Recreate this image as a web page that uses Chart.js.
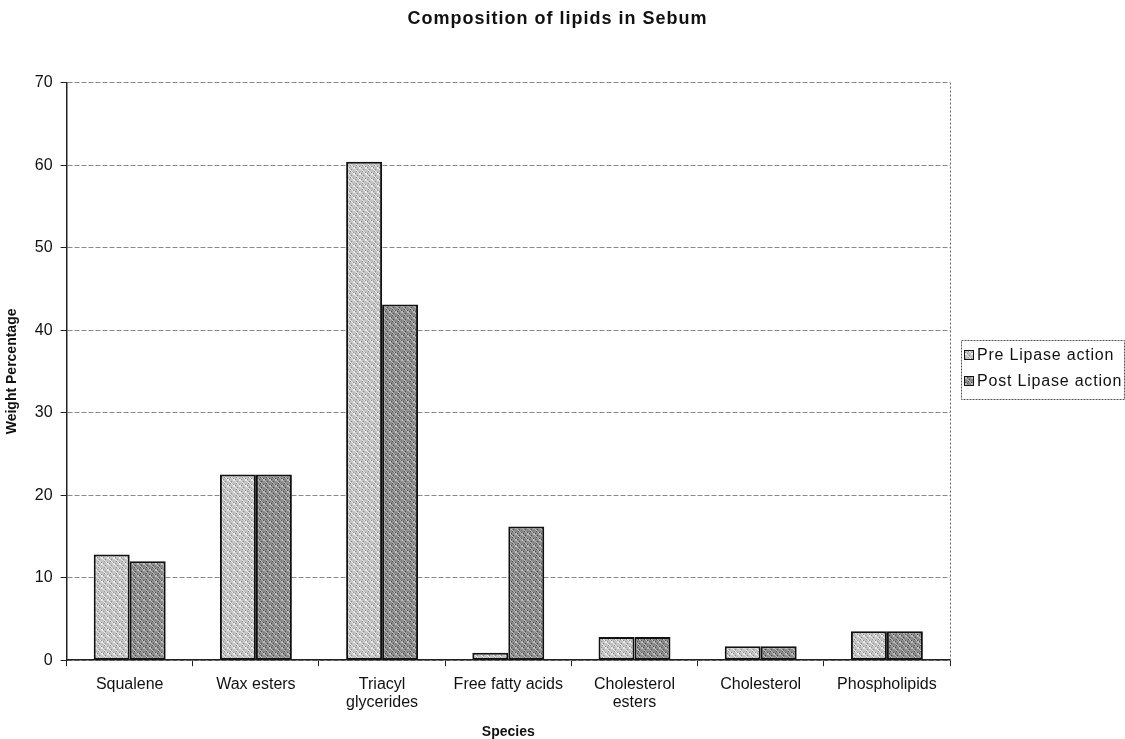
<!DOCTYPE html>
<html>
<head>
<meta charset="utf-8">
<title>Composition of lipids in Sebum</title>
<script src="https://cdn.jsdelivr.net/npm/chart.js@4/dist/chart.umd.min.js"></script>
<style>
  html, body { margin: 0; padding: 0; background: #fff; }
  #wrap { width: 1125px; height: 739px; }
</style>
</head>
<body>
<div id="wrap"><canvas id="c" width="1125" height="739"></canvas></div>
<script>
// Lipid classes found in sebum
const categories = [
  'Squalene',
  'Wax esters',
  ['Triacyl', 'glycerides'],
  'Free fatty acids',
  ['Cholesterol', 'esters'],
  'Cholesterol',
  'Phospholipids'
];
// Weight percentage of each class before and after lipase action
const preLipase  = [12.8, 22.5, 60.4, 0.9, 2.8, 1.7, 3.5];
const postLipase = [12.0, 22.5, 43.1, 16.2, 2.8, 1.7, 3.5];
const seriesNames = ['Pre Lipase action', 'Post Lipase action'];
const yTicks = [0, 10, 20, 30, 40, 50, 60, 70];

const FONT = "'Liberation Sans', Arial, Helvetica, sans-serif";

// Stippled grey fills, built from a fixed dither grid
function stipple(base, light, dark) {
  const s = 6;
  const cv = document.createElement('canvas');
  cv.width = s; cv.height = s;
  const g = cv.getContext('2d');
  g.fillStyle = base; g.fillRect(0, 0, s, s);
  for (let y = 0; y < s; y++) {
    for (let x = 0; x < s; x++) {
      if ((x * 2 + y * 3) % 5 === 0) { g.fillStyle = light; g.fillRect(x, y, 1, 1); }
      else if ((x + y * 4) % 7 === 0) { g.fillStyle = dark; g.fillRect(x, y, 1, 1); }
    }
  }
  return g.createPattern(cv, 'repeat');
}
const preFill = stipple('#c2c2c2', '#ececec', '#8a8a8a');
const postFill = stipple('#8a8a8a', '#c0c0c0', '#4a4a4a');

// Slightly spaced lettering for the chart title
const spacedTitle = {
  id: 'spacedTitle',
  beforeDraw(chart) {
    const tb = chart.titleBlock;
    if (tb && !tb._spaced) {
      const draw = tb.draw.bind(tb);
      tb.draw = function (area) {
        const c = this.ctx;
        const prev = c.letterSpacing;
        c.letterSpacing = '1px';
        draw(area);
        c.letterSpacing = prev;
      };
      tb._spaced = true;
    }
  }
};

// Dotted frame on the right edge of the plot
const frame = {
  id: 'frame',
  afterDraw(chart) {
    const { ctx, chartArea: a } = chart;
    ctx.save();
    ctx.strokeStyle = '#666';
    ctx.lineWidth = 1;
    ctx.setLineDash([2, 2]);
    ctx.beginPath();
    ctx.moveTo(a.right + 0.5, a.top);
    ctx.lineTo(a.right + 0.5, a.bottom);
    ctx.stroke();
    ctx.restore();
  }
};

// Boxed legend in the space kept free at the right of the plot
const boxLegend = {
  id: 'boxLegend',
  afterDraw(chart) {
    const { ctx, chartArea: a } = chart;
    const x = a.right + 11, w = 163, h = 59;
    const y = Math.round((a.top + a.bottom) / 2 - h / 2 - 2);
    ctx.save();
    ctx.strokeStyle = '#555';
    ctx.lineWidth = 1;
    ctx.setLineDash([2, 1]);
    ctx.strokeRect(x + 0.5, y + 0.5, w, h);
    ctx.setLineDash([]);
    ctx.font = '16px ' + FONT;
    ctx.letterSpacing = '0.8px';
    ctx.textBaseline = 'middle';
    chart.data.datasets.forEach((ds, i) => {
      const cy = y + 15 + i * 26;
      ctx.fillStyle = ds.backgroundColor;
      ctx.fillRect(x + 3, cy - 5, 10, 10);
      ctx.strokeStyle = '#111';
      ctx.lineWidth = 1;
      ctx.strokeRect(x + 3.5, cy - 4.5, 9, 9);
      ctx.fillStyle = '#111';
      ctx.fillText(ds.label, x + 16, cy + 1);
    });
    ctx.restore();
  }
};

new Chart(document.getElementById('c'), {
  type: 'bar',
  data: {
    labels: categories,
    datasets: [
      { label: seriesNames[0], data: preLipase, backgroundColor: preFill,
        borderColor: '#111', borderWidth: 2, borderSkipped: false },
      { label: seriesNames[1], data: postLipase, backgroundColor: postFill,
        borderColor: '#111', borderWidth: 2, borderSkipped: false }
    ]
  },
  options: {
    responsive: false,
    animation: false,
    events: [],
    categoryPercentage: 0.57,
    barPercentage: 1.0,
    layout: { padding: { left: 2, right: 12, top: 6, bottom: 0 } },
    plugins: {
      legend: { display: false },
      tooltip: { enabled: false },
      title: {
        display: true,
        text: 'Composition of lipids in Sebum',
        color: '#111',
        font: { family: FONT, size: 18, weight: 'bold' },
        padding: { top: 2, bottom: 53 }
      }
    },
    scales: {
      x: {
        grid: { display: true, drawOnChartArea: false, drawTicks: true,
                tickLength: 6, tickColor: '#222', offset: true },
        border: { display: true, color: '#222', width: 1.5 },
        ticks: { color: '#111', font: { family: FONT, size: 16, lineHeight: 1.15 },
                 maxRotation: 0, autoSkip: false, padding: 9 },
        title: { display: true, text: 'Species', color: '#111',
                 font: { family: FONT, size: 14, weight: 'bold', lineHeight: 1 },
                 padding: { top: 4, bottom: 0 } }
      },
      y: {
        min: 0, max: 70,
        afterBuildTicks(scale) { scale.ticks = yTicks.map(v => ({ value: v })); },
        grid: { color: '#8a8a8a', lineWidth: 1, tickLength: 6, tickColor: '#222' },
        border: { display: true, color: '#222', width: 1.5, dash: [5, 2] },
        ticks: { color: '#111', font: { family: FONT, size: 16 }, padding: 8 },
        title: { display: true, text: 'Weight Percentage', color: '#111',
                 font: { family: FONT, size: 14, weight: 'bold' },
                 padding: { top: 2, bottom: 6 } }
      },
      // empty strip on the right that holds the legend
      side: {
        position: 'right',
        display: true,
        ticks: { display: false },
        grid: { display: false },
        border: { display: false },
        afterFit(scale) { scale.width = 163; }
      }
    }
  },
  plugins: [spacedTitle, frame, boxLegend]
});
</script>
</body>
</html>
